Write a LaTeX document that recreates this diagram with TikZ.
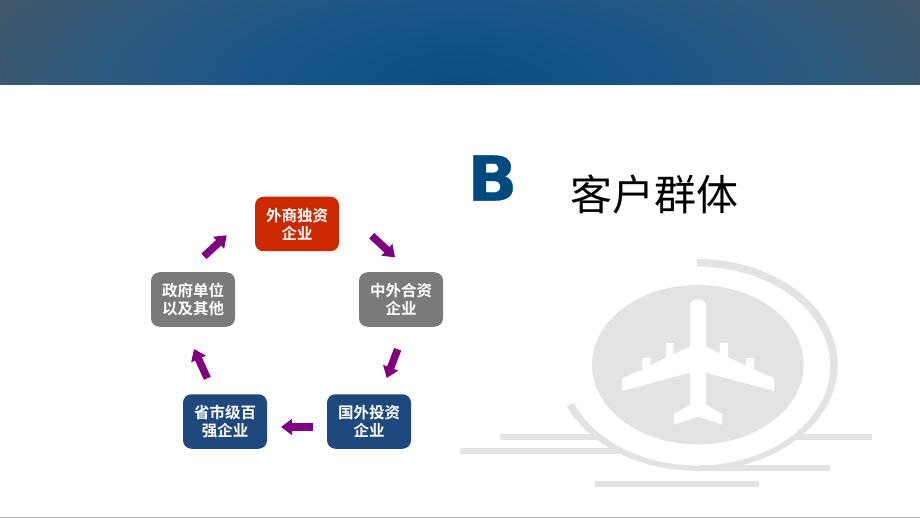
\documentclass[tikz,border=0pt]{standalone}
\usepackage{fontspec}
\usetikzlibrary{arrows.meta}
\newfontfamily\cjk[BoldFont={Noto Sans CJK SC Bold}]{Noto Sans CJK SC}
\newfontfamily\latinbold[FakeBold=0.6,FakeStretch=1.05]{DejaVu Sans Bold}
\definecolor{planegray}{HTML}{E3E3E3}
\definecolor{purplearrow}{HTML}{800080}
\definecolor{redbox}{HTML}{CC2900}
\definecolor{graybox}{HTML}{7A7A7A}
\definecolor{bluebox}{HTML}{1F497D}
\definecolor{hdrside}{HTML}{40586B}
\definecolor{hdrdeep}{HTML}{0C4D80}
\definecolor{hdrinner}{HTML}{1A5587}
\definecolor{hdrouter}{HTML}{2C5A80}
\definecolor{titleblue}{HTML}{004A80}
\definecolor{footline}{HTML}{B0B8BC}
\pgfdeclareradialshading{hdrglow}{\pgfpoint{0bp}{0bp}}{%
  color(0bp)=(hdrdeep); color(10bp)=(hdrinner); color(17bp)=(hdrouter); color(24bp)=(hdrside); color(50bp)=(hdrside)}
\tikzset{
  box/.style={rounded corners=8.5pt,minimum width=84pt,minimum height=54.5pt,inner sep=0pt,
    align=center,text=white,font=\cjk\bfseries\fontsize{15.5}{18}\selectfont},
  flow/.style={draw=purplearrow,line width=7.5pt,-{Triangle[length=11pt,width=15.5pt,fill=purplearrow]}},
  planepart/.style={fill=planegray,draw=none}
}
\begin{document}
\begin{tikzpicture}[x=1pt,y=-1pt]
\useasboundingbox (0,0) rectangle (920,518);
\fill[white] (0,0) rectangle (920,518);
% header
\begin{scope}
\clip (0,0) rectangle (920,85);
\shade[shading=hdrglow] (460,85) ellipse [x radius=520,y radius=200];
\end{scope}
\fill[footline] (0,517) rectangle (920,518);
% title
\node[font=\latinbold\fontsize{62}{62}\selectfont,text=titleblue,inner sep=0pt] (letter) at (492.5,178) {B};
\node[font=\cjk\fontsize{42}{50}\selectfont,text=black,inner sep=0pt] (title) at (654.5,194) {客户群体};
% emblem
\fill[planepart] (500,433.7) rectangle (600,440);
\fill[planepart] (460,448) rectangle (622,454);
\fill[planepart] (795,433.7) rectangle (872,440);
\fill[planepart] (700,464.5) rectangle (830,470.5);
\fill[planepart] (595,480.7) rectangle (758.7,487);
\fill[planepart] (697.8,364.7) ellipse [x radius=105.8,y radius=79.7];
\fill[planepart] (696.7,259) arc[start angle=-90,end angle=157.5,x radius=141,y radius=105.9]
  -- (574,403.3) arc[start angle=158,end angle=-90,x radius=133,y radius=99.5] -- cycle;
\begin{scope}[shift={(450,250)},x=0.3333pt,y=-0.3333pt]
\fill[white] (720,165) .. controls (720,142) and (768,142) .. (768,165)
  -- (768,291) -- (810,310) -- (810,279) -- (834,279) -- (834,322) -- (888,347) -- (888,324) -- (912,324)
  -- (912,358) -- (973,385) -- (973,423) -- (768,368) -- (768,464) -- (816,492) -- (816,524)
  -- (744,500) -- (672,524) -- (672,492) -- (720,464) -- (720,368) -- (516,423) -- (516,385)
  -- (577,358) -- (577,324) -- (601,324) -- (601,347) -- (648,322) -- (648,279) -- (671,279)
  -- (671,312) -- (720,291) -- cycle;
\end{scope}
% boxes
\node[box,fill=redbox] (foreign) at (297,224) {外商独资\\企业};
\node[box,fill=graybox] (joint) at (401,299.5) {中外合资\\企业};
\node[box,fill=bluebox] (invest) at (369,421.5) {国外投资\\企业};
\node[box,fill=bluebox] (top) at (225,421.5) {省市级百\\强企业};
\node[box,fill=graybox] (gov) at (193,299.5) {政府单位\\以及其他};
% arrows
\coordinate (a1s) at (371.7,235.7); \coordinate (a1e) at (395,257.3);
\coordinate (a2s) at (397.7,349.3); \coordinate (a2e) at (386.7,378);
\coordinate (a3s) at (313,427);     \coordinate (a3e) at (281,427);
\coordinate (a4s) at (207.3,378.3); \coordinate (a4e) at (194,349);
\coordinate (a5s) at (204,256.3);   \coordinate (a5e) at (226.7,235.3);
\draw[flow] (a1s) -- (a1e);
\draw[flow] (a2s) -- (a2e);
\draw[flow] (a3s) -- (a3e);
\draw[flow] (a4s) -- (a4e);
\draw[flow] (a5s) -- (a5e);
\end{tikzpicture}
\end{document}
